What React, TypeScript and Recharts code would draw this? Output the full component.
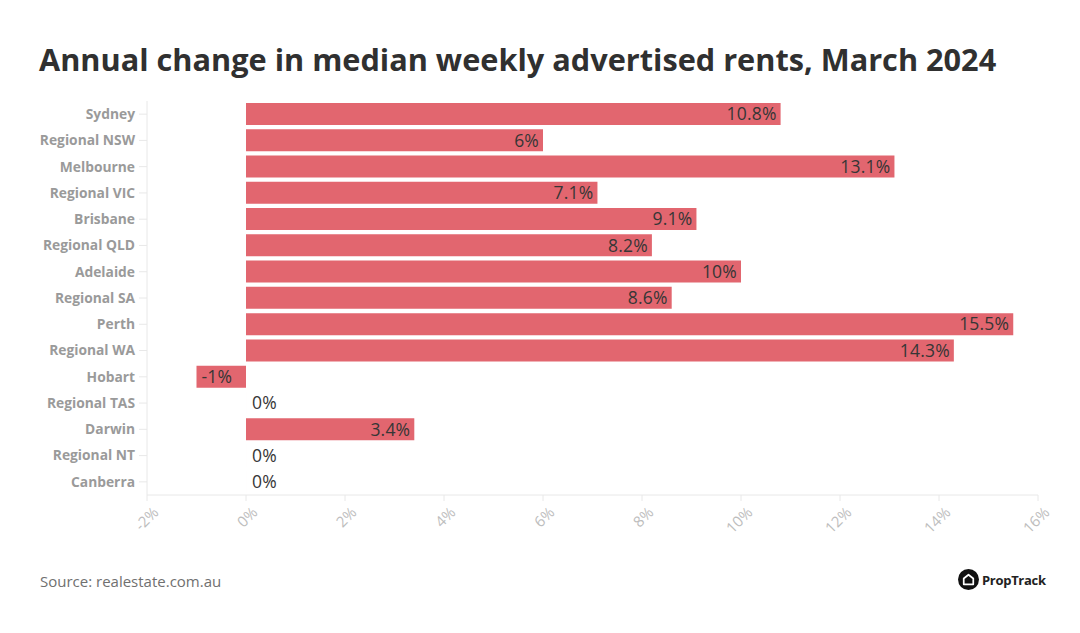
import * as React from 'react';
import { BarChart, Bar, XAxis, YAxis, LabelList } from 'recharts';

// annual change in median weekly advertised rents, March 2024 (PropTrack)
const regions = [
  'Sydney', 'Regional NSW', 'Melbourne', 'Regional VIC', 'Brisbane',
  'Regional QLD', 'Adelaide', 'Regional SA', 'Perth', 'Regional WA',
  'Hobart', 'Regional TAS', 'Darwin', 'Regional NT', 'Canberra',
];
const rentChange = [10.8, 6, 13.1, 7.1, 9.1, 8.2, 10, 8.6, 15.5, 14.3, -1, 0, 3.4, 0, 0];
const xTicks = [-2, 0, 2, 4, 6, 8, 10, 12, 14, 16];

const BAR_COLOR = '#e2666f';
const AXIS_COLOR = '#e8e8e8';
const FONT = '"Open Sans", "DejaVu Sans", sans-serif';

const data = regions.map((name, i) => ({ name, value: rentChange[i], label: `${rentChange[i]}%` }));

const ValueLabel = (props: any) => {
  const { x, y, width, height, value } = props;
  const num = parseFloat(value);
  const cy = y + height / 2;
  let tx = x + 6;
  let anchor: 'start' | 'end' = 'start';
  if (num > 0) {
    tx = x + width - 4;
    anchor = 'end';
  } else if (num < 0) {
    tx = x + width + 5;
    anchor = 'start';
  }
  return (
    <text x={tx} y={cy} dy="0.36em" textAnchor={anchor} fill="#363636" fontSize={17.5} letterSpacing={0.2} fontFamily={FONT}>
      {value}
    </text>
  );
};

const XTick = (props: any) => {
  const { x, y, payload } = props;
  return (
    <g transform={`translate(${x + 5},${y + 3})`}>
      <text x={0} y={0} dy="0.7em" textAnchor="end" transform="rotate(-45)" fill="#bdbdbd" fontSize={15} fontFamily={FONT}>
        {payload.value}%
      </text>
    </g>
  );
};

const App = () => {
  return (
    <div style={{ position: 'absolute', left: 0, top: 0, width: 1080, height: 633, background: '#fff', fontFamily: FONT }}>
      <div style={{ position: 'absolute', left: 39, top: 38, fontSize: 30.7, fontWeight: 700, color: '#303030', whiteSpace: 'nowrap' }}>
        Annual change in median weekly advertised rents, March 2024
      </div>
      <BarChart
        width={1080}
        height={633}
        data={data}
        layout="vertical"
        margin={{ top: 101, right: 42, bottom: 88, left: 27 }}
        barCategoryGap={2}
      >
        <XAxis
          type="number"
          domain={[-2, 16]}
          ticks={xTicks}
          interval={0}
          stroke={AXIS_COLOR}
          tickLine={{ stroke: AXIS_COLOR }}
          tickSize={6}
          tick={<XTick />}
          height={50}
        />
        <YAxis
          type="category"
          dataKey="name"
          width={120}
          stroke={AXIS_COLOR}
          tickLine={{ stroke: AXIS_COLOR }}
          tickSize={8}
          tickMargin={4}
          tick={{ fill: '#9a9a9a', fontSize: 13.8, fontWeight: 700, fontFamily: FONT }}
          interval={0}
        />
        <Bar
          dataKey="value"
          fill={BAR_COLOR}
          isAnimationActive={false}
          minPointSize={(v: any) => (v === 0 ? 0.01 : 0)}
        >
          <LabelList dataKey="label" content={<ValueLabel />} />
        </Bar>
      </BarChart>
      <div style={{ position: 'absolute', left: 40, top: 571, fontSize: 15, color: '#707070' }}>
        Source: realestate.com.au
      </div>
      <div style={{ position: 'absolute', left: 958, top: 569, display: 'flex', alignItems: 'center' }}>
        <svg width={21} height={21} viewBox="0 0 22 22">
          <circle cx={11} cy={11} r={11} fill="#111" />
          <path d="M6 16 V10 L11 6 L16 10 V16 Z" fill="none" stroke="#fff" strokeWidth={1.8} strokeLinejoin="round" />
        </svg>
        <span style={{ marginLeft: 3, fontSize: 13, fontWeight: 700, color: '#222', letterSpacing: -0.3 }}>PropTrack</span>
      </div>
    </div>
  );
};

export default App;
